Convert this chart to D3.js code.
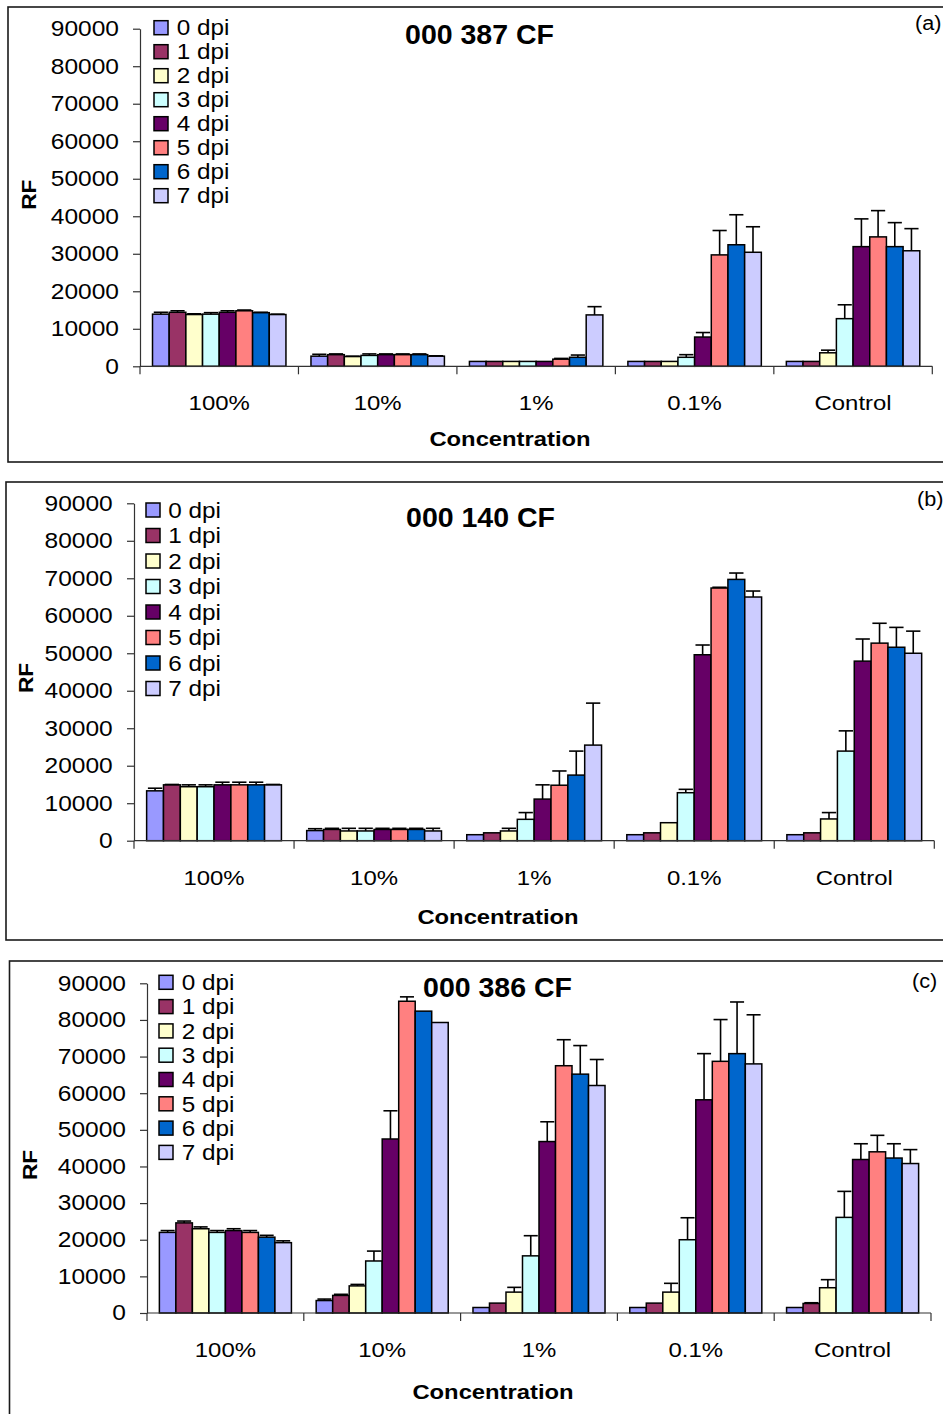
<!DOCTYPE html>
<html>
<head>
<meta charset="utf-8">
<script src="https://cdn.jsdelivr.net/npm/d3@7"></script>
<style>
  html, body { margin: 0; padding: 0; background: #fff; }
  svg { display: block; }
</style>
</head>
<body>
<svg id="chart" width="943" height="1414"></svg>
<script>
// Concentration groups on the x axis
const categories = ["100%", "10%", "1%", "0.1%", "Control"];
// Days post inoculation (one bar per day in each group)
const seriesLabels = ["0 dpi", "1 dpi", "2 dpi", "3 dpi", "4 dpi", "5 dpi", "6 dpi", "7 dpi"];
const seriesColors = ["#9999FF", "#993366", "#FFFFCC", "#CCFFFF", "#660066", "#FF8080", "#0066CC", "#CCCCFF"];
const yTicks = [0, 10000, 20000, 30000, 40000, 50000, 60000, 70000, 80000, 90000];

// RF means, one row per concentration, one value per dpi — strain 000 387 CF
const rf387 = [
  [13900, 14400, 13800, 13900, 14400, 14800, 14300, 13800],
  [2700, 3100, 2600, 2900, 3100, 3100, 3100, 2700],
  [1300, 1300, 1300, 1300, 1300, 1900, 2400, 13700],
  [1300, 1300, 1300, 2400, 7800, 29700, 32400, 30400],
  [1300, 1300, 3600, 12700, 31900, 34500, 31900, 30800]
];
const sd387 = [
  [500, 400, 200, 400, 400, 200, 100, 100],
  [500, 200, 100, 400, 200, 200, 200, 100],
  [0, 0, 0, 0, 0, 200, 600, 2200],
  [0, 0, 0, 700, 1200, 6500, 8000, 6800],
  [0, 0, 700, 3700, 7400, 7000, 6400, 5900]
];

// Strain 000 140 CF
const rf140 = [
  [13300, 14900, 14400, 14400, 14900, 14900, 14900, 14900],
  [2700, 3000, 2600, 2600, 3000, 3000, 3000, 2600],
  [1600, 2100, 2600, 5700, 11100, 14800, 17500, 25500],
  [1600, 2100, 4800, 12800, 49600, 67400, 69700, 65000],
  [1600, 2100, 5800, 23900, 47900, 52700, 51600, 50000]
];
const sd140 = [
  [700, 100, 500, 500, 700, 700, 700, 100],
  [500, 300, 700, 700, 300, 300, 300, 700],
  [0, 0, 700, 1800, 3800, 3800, 6400, 11200],
  [0, 0, 0, 900, 2600, 200, 1700, 1600],
  [0, 0, 1700, 5400, 5900, 5300, 5300, 5900]
];

// Strain 000 386 CF
const rf386 = [
  [22000, 24600, 23000, 22000, 22500, 22000, 20700, 19200],
  [3400, 4800, 7400, 14200, 47500, 85100, 82400, 79300],
  [1500, 2700, 5700, 15600, 46800, 67500, 65200, 62100],
  [1500, 2700, 5700, 20000, 58200, 68700, 70800, 68000],
  [1500, 2600, 6900, 26100, 41900, 44000, 42300, 40800]
];
const sd386 = [
  [500, 500, 500, 500, 500, 500, 500, 500],
  [400, 300, 400, 2700, 7700, 1200, 0, 0],
  [0, 0, 1300, 5500, 5400, 7100, 7800, 7100],
  [0, 0, 2400, 6000, 12600, 11400, 14100, 13400],
  [0, 200, 2200, 7100, 4300, 4500, 3900, 3800]
];

const panels = [
  { tag: "(a)", title: "000 387 CF", values: rf387, errors: sd387,
    box: [8, 7, 980, 455], x0: 140, x1: 932.3, yZero: 366.3, yTop: 28.7,
    tickLabelX: 119, titleX: 479.5, titleY: 44, tagX: 915, tagY: 30,
    legendX: 154, legendY0: 27.7, legendStep: 24, legendTextX: 176.7,
    rfX: 28.7, rfY: 194.7, catLabelDy: 44, axisTitleX: 510, axisTitleY: 446 },
  { tag: "(b)", title: "000 140 CF", values: rf140, errors: sd140,
    box: [6, 482, 980, 458], x0: 134, x1: 934.3, yZero: 840.7, yTop: 503.3,
    tickLabelX: 112.7, titleX: 480.5, titleY: 527, tagX: 917, tagY: 506,
    legendX: 146, legendY0: 510, legendStep: 25.5, legendTextX: 168.3,
    rfX: 25.8, rfY: 678, catLabelDy: 44, axisTitleX: 498, axisTitleY: 924 },
  { tag: "(c)", title: "000 386 CF", values: rf386, errors: sd386,
    box: [9.5, 961, 980, 480], x0: 147, x1: 931, yZero: 1313, yTop: 983.3,
    tickLabelX: 126, titleX: 497.5, titleY: 997, tagX: 912, tagY: 988,
    legendX: 159, legendY0: 982.3, legendStep: 24.3, legendTextX: 181.7,
    rfX: 29.2, rfY: 1165, catLabelDy: 44, axisTitleX: 493, axisTitleY: 1399 }
];

const svg = d3.select("#chart");
const font = "'Liberation Sans', Arial, Helvetica, sans-serif";

// The labels use a wide Helvetica cut; widen Liberation Sans glyphs to suit.
function widen(sel, k) {
  sel.each(function () {
    const w = this.getComputedTextLength();
    d3.select(this).attr("textLength", w * k).attr("lengthAdjust", "spacingAndGlyphs");
  });
}

function drawPanel(p) {
  const g = svg.append("g");

  // frame around the panel
  g.append("rect")
    .attr("x", p.box[0]).attr("y", p.box[1])
    .attr("width", p.box[2]).attr("height", p.box[3])
    .attr("fill", "none").attr("stroke", "#1a1a1a").attr("stroke-width", 1.6);

  const x = d3.scaleBand().domain(categories).range([p.x0, p.x1]).padding(0);
  const xs = d3.scaleBand().domain(seriesLabels).range([0, x.bandwidth()])
    .paddingInner(0).paddingOuter(0.75);
  const y = d3.scaleLinear().domain([0, 90000]).range([p.yZero, p.yTop]);

  // y axis
  const yAxis = g.append("g").attr("transform", `translate(${p.x0},0)`)
    .call(d3.axisLeft(y).tickValues(yTicks).tickFormat(d3.format("d"))
      .tickSize(7).tickSizeOuter(0).tickPadding(p.x0 - 7 - p.tickLabelX));
  yAxis.select(".domain").attr("stroke", "#333").attr("stroke-width", 1.2);
  yAxis.selectAll(".tick line").attr("stroke", "#333").attr("stroke-width", 1.2);
  yAxis.selectAll(".tick text").attr("font-family", font)
    .attr("font-size", 21.5).attr("fill", "#000").call(widen, 1.14);

  // bars
  const groups = g.selectAll(".cat").data(categories).join("g")
    .attr("transform", d => `translate(${x(d)},0)`);

  groups.each(function (cat, ci) {
    const cg = d3.select(this);
    const rows = seriesLabels.map((s, si) => ({ s, si, v: p.values[ci][si], e: p.errors[ci][si] }));
    cg.selectAll("rect").data(rows).join("rect")
      .attr("x", d => xs(d.s))
      .attr("y", d => y(d.v))
      .attr("width", xs.bandwidth())
      .attr("height", d => y(0) - y(d.v))
      .attr("fill", d => seriesColors[d.si])
      .attr("stroke", "#000").attr("stroke-width", 1.5);

    const capW = xs.bandwidth() * 0.85;
    const err = rows.filter(d => d.e > 0);
    cg.selectAll("line.err").data(err).join("line").attr("class", "err")
      .attr("x1", d => xs(d.s) + xs.bandwidth() / 2)
      .attr("x2", d => xs(d.s) + xs.bandwidth() / 2)
      .attr("y1", d => y(d.v)).attr("y2", d => y(d.v + d.e))
      .attr("stroke", "#000").attr("stroke-width", 1.6);
    cg.selectAll("line.cap").data(err).join("line").attr("class", "cap")
      .attr("x1", d => xs(d.s) + xs.bandwidth() / 2 - capW / 2)
      .attr("x2", d => xs(d.s) + xs.bandwidth() / 2 + capW / 2)
      .attr("y1", d => y(d.v + d.e)).attr("y2", d => y(d.v + d.e))
      .attr("stroke", "#000").attr("stroke-width", 1.6);
  });

  // x axis with tick marks between categories
  g.append("line")
    .attr("x1", p.x0).attr("x2", p.x1).attr("y1", p.yZero).attr("y2", p.yZero)
    .attr("stroke", "#333").attr("stroke-width", 1.2);
  const bounds = categories.map(c => x(c)).concat([p.x1]);
  g.selectAll("line.xtick").data(bounds).join("line").attr("class", "xtick")
    .attr("x1", d => d).attr("x2", d => d)
    .attr("y1", p.yZero).attr("y2", p.yZero + 8)
    .attr("stroke", "#333").attr("stroke-width", 1.2);
  g.selectAll("text.cat").data(categories).join("text").attr("class", "cat")
    .attr("x", d => x(d) + x.bandwidth() / 2)
    .attr("y", p.yZero + p.catLabelDy)
    .attr("text-anchor", "middle")
    .attr("font-family", font).attr("font-size", 21)
    .text(d => d)
    .call(widen, 1.14);

  // axis titles
  g.append("text")
    .attr("x", p.axisTitleX).attr("y", p.axisTitleY)
    .attr("text-anchor", "middle")
    .attr("font-family", font).attr("font-weight", "bold").attr("font-size", 20.5)
    .text("Concentration")
    .call(widen, 1.16);
  g.append("text")
    .attr("transform", `translate(${p.rfX},${p.rfY}) rotate(-90)`)
    .attr("text-anchor", "middle").attr("dy", "0.36em")
    .attr("font-family", font).attr("font-weight", "bold").attr("font-size", 21)
    .text("RF")
    .call(widen, 1.08);

  // chart title and panel tag
  g.append("text")
    .attr("x", p.titleX).attr("y", p.titleY)
    .attr("text-anchor", "middle")
    .attr("font-family", font).attr("font-weight", "bold").attr("font-size", 28.5)
    .text(p.title);
  g.append("text")
    .attr("x", p.tagX).attr("y", p.tagY)
    .attr("font-family", font).attr("font-size", 20)
    .text(p.tag)
    .call(widen, 1.08);

  // legend
  const leg = g.selectAll("g.leg").data(seriesLabels).join("g").attr("class", "leg")
    .attr("transform", (d, i) => `translate(0,${p.legendY0 + i * p.legendStep})`);
  leg.append("rect")
    .attr("x", p.legendX).attr("y", -7).attr("width", 14).attr("height", 14)
    .attr("fill", (d, i) => seriesColors[i])
    .attr("stroke", "#000").attr("stroke-width", 1.5);
  leg.append("text")
    .attr("x", p.legendTextX).attr("y", 0).attr("dy", "0.36em")
    .attr("font-family", font).attr("font-size", 21.5)
    .text(d => d)
    .call(widen, 1.13);
}

panels.forEach(drawPanel);
</script>
</body>
</html>
